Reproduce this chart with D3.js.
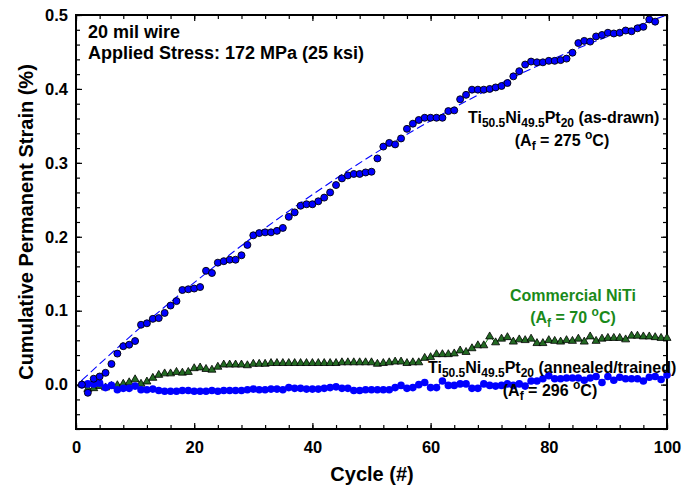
<!doctype html>
<html>
<head>
<meta charset="utf8">
<title>Cumulative Permanent Strain</title>
<script src="https://cdn.jsdelivr.net/npm/d3@7/dist/d3.min.js"></script>
<style>
  body { margin: 0; background: #fff; }
  svg text { font-family: "Liberation Sans", Arial, sans-serif; font-weight: bold; }
</style>
</head>
<body>
<div id="chart"></div>
<script>
"use strict";
// data
const asDrawnCycles = d3.range(1, 99);
const asDrawn = [0.000,-0.011,0.008,0.011,0.016,0.028,0.042,0.052,0.054,0.059,
  0.081,0.083,0.089,0.090,0.097,0.107,0.113,0.128,0.129,0.130,
  0.132,0.154,0.151,0.165,0.167,0.169,0.169,0.175,0.189,0.202,
  0.205,0.206,0.206,0.208,0.212,0.227,0.233,0.242,0.244,0.244,
  0.248,0.253,0.260,0.270,0.279,0.283,0.285,0.285,0.287,0.288,
  0.306,0.322,0.327,0.325,0.333,0.346,0.353,0.358,0.361,0.361,
  0.361,0.361,0.370,0.371,0.386,0.392,0.399,0.399,0.399,0.400,
  0.402,0.404,0.408,0.417,0.424,0.433,0.437,0.436,0.436,0.438,
  0.438,0.439,0.441,0.449,0.462,0.465,0.464,0.471,0.473,0.476,
  0.475,0.476,0.479,0.478,0.482,0.484,0.494,0.491];

const cycles = d3.range(1, 101);
const commercial = [0.000,-0.006,-0.005,-0.002,-0.004,-0.002,-0.001,0.001,0.003,0.007,
  0.001,0.004,0.009,0.013,0.015,0.015,0.017,0.016,0.017,0.022,
  0.023,0.021,0.020,0.024,0.027,0.027,0.027,0.027,0.026,0.028,
  0.028,0.028,0.029,0.029,0.029,0.029,0.029,0.029,0.029,0.029,
  0.029,0.029,0.029,0.029,0.030,0.030,0.030,0.030,0.030,0.030,
  0.028,0.029,0.030,0.031,0.031,0.029,0.030,0.030,0.036,0.037,
  0.041,0.041,0.041,0.042,0.046,0.044,0.049,0.053,0.053,0.065,
  0.057,0.062,0.064,0.058,0.061,0.060,0.062,0.056,0.056,0.060,
  0.059,0.058,0.060,0.059,0.062,0.058,0.065,0.059,0.062,0.063,
  0.063,0.063,0.061,0.066,0.066,0.065,0.065,0.064,0.063,0.063];

const annealed = [0.000,0.001,0.001,0.002,-0.004,-0.001,-0.007,-0.005,-0.005,-0.002,
  -0.007,-0.007,-0.006,-0.008,-0.009,-0.009,-0.009,-0.008,-0.008,-0.009,
  -0.009,-0.009,-0.008,-0.009,-0.008,-0.008,-0.008,-0.008,-0.007,-0.006,
  -0.007,-0.007,-0.006,-0.006,-0.007,-0.004,-0.005,-0.005,-0.006,-0.006,
  -0.006,-0.005,-0.004,-0.003,-0.005,-0.005,-0.008,-0.008,-0.007,-0.007,
  -0.007,-0.007,-0.007,-0.004,-0.001,-0.005,-0.004,0.000,0.003,-0.004,
  -0.004,0.005,-0.001,-0.001,0.001,0.001,-0.005,-0.005,0.001,-0.001,
  -0.002,-0.001,0.001,-0.001,0.001,-0.002,0.005,0.005,0.008,0.012,
  0.008,0.008,0.009,0.009,0.009,0.006,0.009,0.011,0.003,0.011,
  0.006,0.010,0.008,0.008,0.008,0.005,0.010,0.011,0.007,0.013];

// dashed trend line through the as-drawn points
const fitCycles = [1, 10, 20, 30, 40, 50, 60, 70, 80, 90, 100];
const fitStrain = [0.006, 0.071, 0.138, 0.200, 0.257, 0.310, 0.357, 0.400, 0.438, 0.471, 0.500];

const xMajor = [0, 20, 40, 60, 80, 100];
const yMajor = [0.0, 0.1, 0.2, 0.3, 0.4, 0.5];

const W = 693, H = 489;
const margin = {top: 15, right: 26, bottom: 60, left: 76};
const blue = "#0000ff", green = "#1a8a1a", darkGreen = "#236b23";

const svg = d3.select("#chart").append("svg")
    .attr("width", W).attr("height", H);

const x = d3.scaleLinear().domain([0, 100]).range([margin.left, W - margin.right]);
const y = d3.scaleLinear().domain([-0.06, 0.5]).range([H - margin.bottom, margin.top]);

// axes: ticks point inward on all four sides
const xMinor = d3.range(0, 101, 4);
const yMinor = d3.range(-0.06, 0.501, 0.02);
function axisGroup(axis, tr) {
  const g = svg.append("g").attr("transform", tr).call(axis);
  g.select(".domain").remove();
  g.selectAll("line").attr("stroke", "#000").attr("stroke-width", 1.2);
  return g;
}
const bottomY = H - margin.bottom, rightX = W - margin.right;
axisGroup(d3.axisBottom(x).tickValues(xMinor).tickSize(-4).tickFormat(""), `translate(0,${bottomY})`);
axisGroup(d3.axisTop(x).tickValues(xMinor).tickSize(-4).tickFormat(""), `translate(0,${margin.top})`);
axisGroup(d3.axisLeft(y).tickValues(yMinor).tickSize(-4).tickFormat(""), `translate(${margin.left},0)`);
axisGroup(d3.axisRight(y).tickValues(yMinor).tickSize(-4).tickFormat(""), `translate(${rightX},0)`);

const gx = axisGroup(d3.axisBottom(x).tickValues(xMajor).tickSize(-6).tickPadding(12).tickFormat(d3.format("d")), `translate(0,${bottomY})`);
axisGroup(d3.axisTop(x).tickValues(xMajor).tickSize(-6).tickFormat(""), `translate(0,${margin.top})`);
const gy = axisGroup(d3.axisLeft(y).tickValues(yMajor).tickSize(-6).tickPadding(8).tickFormat(d3.format(".1f")), `translate(${margin.left},0)`);
axisGroup(d3.axisRight(y).tickValues(yMajor).tickSize(-6).tickFormat(""), `translate(${rightX},0)`);
[gx, gy].forEach(g => g.selectAll("text")
    .attr("fill", "#000").style("font-size", "16.5px").style("font-family", "Liberation Sans, Arial, sans-serif")
    .style("font-weight", "bold"));

// frame
svg.append("rect")
    .attr("x", margin.left).attr("y", margin.top)
    .attr("width", rightX - margin.left).attr("height", bottomY - margin.top)
    .attr("fill", "none").attr("stroke", "#000").attr("stroke-width", 2);

// axis titles
svg.append("text").attr("x", 372).attr("y", 481)
    .attr("text-anchor", "middle").style("font-size", "20px").text("Cycle (#)");
svg.append("text").attr("transform", `translate(33,${(margin.top + bottomY) / 2}) rotate(-90)`)
    .attr("text-anchor", "middle").style("font-size", "20px").text("Cumulative Permanent Strain (%)");

// Commercial NiTi: green line with triangles
const line = d3.line().x(d => x(d[0])).y(d => y(d[1]));
const greenPts = cycles.map((c, i) => [c, commercial[i]]);
svg.append("path").datum(greenPts).attr("d", line)
    .attr("fill", "none").attr("stroke", green).attr("stroke-width", 1);
const tri = d3.symbol().type(d3.symbolTriangle).size(28);
svg.append("g").selectAll("path").data(greenPts).join("path")
    .attr("d", tri)
    .attr("transform", d => `translate(${x(d[0])},${y(d[1])})`)
    .attr("fill", darkGreen).attr("stroke", "#000").attr("stroke-width", 0.8);

// annealed/trained: blue line with plain blue dots
const annPts = cycles.map((c, i) => [c, annealed[i]]);
svg.append("path").datum(annPts).attr("d", line)
    .attr("fill", "none").attr("stroke", blue).attr("stroke-width", 1);
svg.append("g").selectAll("circle").data(annPts).join("circle")
    .attr("cx", d => x(d[0])).attr("cy", d => y(d[1])).attr("r", 3.8)
    .attr("fill", blue);

// trend line for as-drawn
const fitPts = fitCycles.map((c, i) => [c, fitStrain[i]]);
svg.append("path").datum(fitPts)
    .attr("d", d3.line().x(d => x(d[0])).y(d => y(d[1])).curve(d3.curveMonotoneX))
    .attr("fill", "none").attr("stroke", blue).attr("stroke-width", 1.1)
    .attr("stroke-dasharray", "8,4");

// as-drawn: blue dots with black outline
const adPts = asDrawnCycles.map((c, i) => [c, asDrawn[i]]);
svg.append("g").selectAll("circle").data(adPts).join("circle")
    .attr("cx", d => x(d[0])).attr("cy", d => y(d[1])).attr("r", 3.5)
    .attr("fill", blue).attr("stroke", "#000").attr("stroke-width", 0.9);

// annotations; parts are [text, "sub"|"sup"]
function label(px, py, parts, opts) {
  opts = opts || {};
  const size = opts.size || 16;
  const small = Math.round(size * 0.72);
  const t = svg.append("text").attr("x", px).attr("y", py)
      .attr("text-anchor", opts.anchor || "start")
      .attr("fill", opts.color || "#000")
      .style("font-size", size + "px");
  let offset = 0;
  parts.forEach(p => {
    const want = p[1] === "sub" ? 4 : p[1] === "sup" ? -7 : 0;
    const s = t.append("tspan").text(p[0]).attr("dy", want - offset);
    if (p[1]) s.style("font-size", small + "px");
    offset = want;
  });
  return t;
}

label(88, 38, [["20 mil wire"]], {size: 18});
label(88, 59, [["Applied Stress: 172 MPa (25 ksi)"]], {size: 18});

label(468, 123, [["Ti"], ["50.5", "sub"], ["Ni"], ["49.5", "sub"], ["Pt"], ["20", "sub"], [" (as-drawn)"]]);
label(562, 146, [["(A"], ["f", "sub"], [" = 275 "], ["o", "sup"], ["C)"]], {anchor: "middle"});

label(573, 301, [["Commercial NiTi"]], {anchor: "middle", color: green});
label(573, 323, [["(A"], ["f", "sub"], [" = 70 "], ["o", "sup"], ["C)"]], {anchor: "middle", color: green});

label(428, 373, [["Ti"], ["50.5", "sub"], ["Ni"], ["49.5", "sub"], ["Pt"], ["20", "sub"], [" (annealed/trained)"]]);
label(550, 396, [["(A"], ["f", "sub"], [" = 296 "], ["o", "sup"], ["C)"]], {anchor: "middle"});
</script>
</body>
</html>
